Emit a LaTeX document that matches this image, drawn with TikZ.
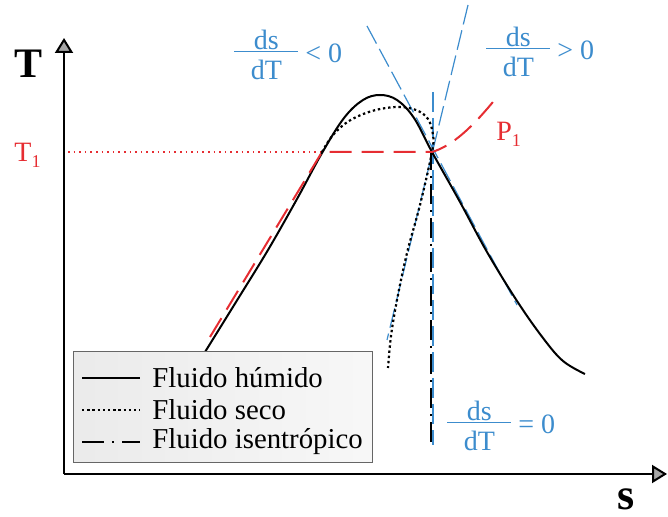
\documentclass[tikz,border=0pt]{standalone}
\usepackage{fontspec}
\setmainfont{Liberation Serif}
\usetikzlibrary{arrows.meta}
\definecolor{bluec}{RGB}{60,140,205}
\definecolor{redc}{RGB}{230,45,50}
\newcommand{\dsdT}{$\vcenter{\offinterlineskip\halign{\hfil##\hfil\cr ds\cr\noalign{\kern0.6pt}\rule{32pt}{0.5pt}\cr\noalign{\kern4pt}dT\cr}}$}
\begin{document}
\begin{tikzpicture}[x=0.5pt,y=-0.5pt,
  wet/.style={line width=1pt, black},
  dry/.style={line width=1.1pt, black, dash pattern=on 1.2pt off 1.4pt},
  isen/.style={line width=1.2pt, black, dash pattern=on 10pt off 3pt on 1pt off 3pt},
  tang/.style={line width=0.6pt, bluec, dash pattern=on 10pt off 3pt},
  iso/.style={line width=1pt, redc, dash pattern=on 11pt off 5pt},
  tdot/.style={line width=0.8pt, redc, dash pattern=on 0.8pt off 2pt},
  axis/.style={line width=1pt, -{Triangle[length=7.5pt,width=9pt,fill=gray!70]}},
  legbox/.style={draw=gray!80!black, line width=0.5pt, left color=gray!16, right color=gray!6},
  leg/.style={font=\fontsize{14.4}{16}\selectfont, anchor=west, inner sep=0pt},
  blab/.style={font=\fontsize{14}{16}\selectfont, text=bluec, anchor=west, inner sep=0pt},
  rlab/.style={font=\fontsize{14}{16}\selectfont, text=redc, anchor=west, inner sep=0pt},
  axlab/.style={font=\fontsize{21}{24}\selectfont\bfseries, inner sep=0pt},
]
\useasboundingbox (0,0) rectangle (668,517);

% axes
\coordinate (O) at (64,474);
\coordinate (Ytop) at (64,38);
\coordinate (Xend) at (667,474);
\draw[axis] (O) -- (Ytop);
\draw[axis] (O) -- (Xend);
\node[axlab] (Tlab) at (28.5,64) {T};
\node[axlab, font=\fontsize{22}{24}\selectfont\bfseries] (slab) at (626,499) {s};

% key points
\coordinate (A) at (322,152);
\coordinate (B) at (432,152);
\coordinate (Yt1) at (68,152);

% T1 dotted line
\draw[tdot] (Yt1) -- (A);
\node[rlab] (T1) at (14,155) {T\raisebox{-3pt}{\fontsize{9}{10}\selectfont 1}};

% tangent lines (blue)
\coordinate (n1) at (367,26);  \coordinate (n2) at (517,305);
\coordinate (p1) at (468,5);   \coordinate (p2) at (387,340);
\coordinate (z1) at (433,92);  \coordinate (z2) at (433,445);
\draw[tang] (n1) -- (n2);
\draw[tang] (p1) -- (p2);
\draw[tang] (z1) -- (z2);

% wet fluid (solid)
\draw[wet] plot[smooth, tension=0.6] coordinates {(205,352) (236,302) (268,250) (297,199) (322,153) (344,118) (363,100) (380,95) (397,100) (414,118) (432,152) (460,202) (487,252) (517,301) (543,338) (563,361) (585,374)};

% dry fluid (dotted)
\draw[dry] plot[smooth, tension=0.6] coordinates {(322,152) (333,135) (349,121) (372,111) (397,107) (416,110) (428,119) (433,135) (432,152) (420,205) (407,253) (397,300) (391,336) (388,368)};

% isentropic (dash-dot)
\draw[isen] (431,150) -- (431,445);

% isobar P1 (red dashed)
\coordinate (R0) at (210,337);
\coordinate (R1) at (497,97);
\draw[iso] (R0) -- (A) -- (B) .. controls (452,146) and (472,128) .. (R1);
\node[rlab] (P1) at (496,134) {P\raisebox{-3pt}{\fontsize{9}{10}\selectfont 1}};

% derivative labels
\node[blab] (f1) at (234,55) {\dsdT\ < 0};
\node[blab] (f2) at (486,52) {\dsdT\ > 0};
\node[blab] (f3) at (447,426) {\dsdT\ = 0};

% legend
\draw[legbox] (73,352) rectangle (372,462);
\coordinate (l1a) at (82,378);  \coordinate (l1b) at (140,378);
\coordinate (l2a) at (82,410);  \coordinate (l2b) at (140,410);
\coordinate (l3a) at (82,442);  \coordinate (l3b) at (140,442);
\draw[wet] (l1a) -- (l1b);
\draw[dry, line width=0.9pt] (l2a) -- (l2b);
\draw[isen, dash pattern=on 11pt off 4pt on 1pt off 4pt] (l3a) -- (l3b);
\node[leg] (L1) at (152,378) {Fluido húmido};
\node[leg] (L2) at (152,410) {Fluido seco};
\node[leg] (L3) at (152,442) {Fluido isentrópico};
\end{tikzpicture}
\end{document}
